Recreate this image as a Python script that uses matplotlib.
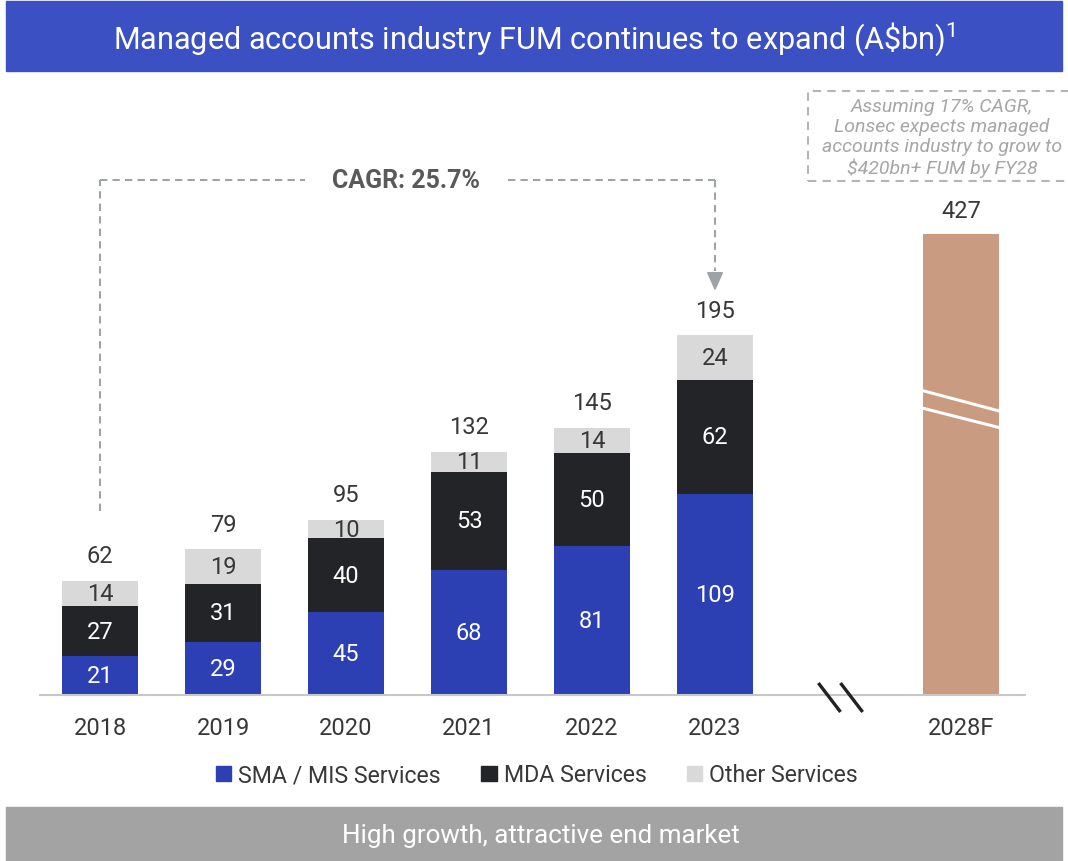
import matplotlib
matplotlib.use("Agg")
import matplotlib.pyplot as plt
from matplotlib.patches import Rectangle, Polygon

plt.rcParams['font.family'] = ['Roboto', 'DejaVu Sans']
plt.rcParams['mathtext.fontset'] = 'custom'
plt.rcParams['mathtext.rm'] = 'Roboto'

# data (A$bn)
years = ["2018", "2019", "2020", "2021", "2022", "2023"]
sma = [21, 29, 45, 68, 81, 109]
mda = [27, 31, 40, 53, 50, 62]
other = [14, 19, 10, 11, 14, 24]
totals = [62, 79, 95, 132, 145, 195]
fc_label = "2028F"
fc_value = 427
fc_shown = 250   # bar is cut by an axis break, so it is drawn shorter

c_sma = "#2c40b4"
c_mda = "#232427"
c_oth = "#d9d9d9"
c_fc = "#c99b80"
c_dash = "#9ea3a8"
c_txt = "#383838"

W, H = 1068, 862
fig = plt.figure(figsize=(W / 100, H / 100), dpi=100)

# banners
fig.patches.append(Rectangle((6 / W, (H - 72) / H), 1056 / W, 70 / H,
                             transform=fig.transFigure, color="#3b50c3", zorder=0))
fig.text(0.5, (H - 39) / H, r"Managed accounts industry FUM continues to expand (A\$bn)$^{1}$",
         color="white", fontsize=22.1, ha="center", va="center")
fig.patches.append(Rectangle((6 / W, 0), 1056 / W, 54 / H,
                             transform=fig.transFigure, color="#a3a3a3", zorder=0))
fig.text(541 / W, (H - 836) / H, "High growth, attractive end market",
         color="white", fontsize=18.7, ha="center", va="center")

ax = fig.add_axes([40 / W, (H - 696) / H, 985 / W, 616 / H])
x = list(range(len(years)))
bw = 0.62
bot2 = [a + b for a, b in zip(sma, mda)]
ax.bar(x, sma, bw, color=c_sma, zorder=2)
ax.bar(x, mda, bw, bottom=sma, color=c_mda, zorder=2)
ax.bar(x, other, bw, bottom=bot2, color=c_oth, zorder=2)
fc_x = 7
ax.bar([fc_x], [fc_shown], bw, color=c_fc, zorder=2)

lbl = dict(fontsize=17, ha="center", va="center")
for i in x:
    ax.text(i, sma[i] / 2, str(sma[i]), color="white", **lbl)
    ax.text(i, sma[i] + mda[i] / 2, str(mda[i]), color="white", **lbl)
    ax.text(i, bot2[i] + other[i] / 2, str(other[i]), color=c_txt, **lbl)
    ax.annotate(str(totals[i]), (i, totals[i]), xytext=(0, 18), textcoords="offset points",
                color=c_txt, **lbl)
ax.annotate(str(fc_value), (fc_x, fc_shown), xytext=(0, 17), textcoords="offset points",
            color=c_txt, **lbl)

# break marks on the forecast bar
for y0, y1 in [(165, 154), (155.5, 145)]:
    ax.plot([fc_x - bw / 2, fc_x + bw / 2], [y0, y1], color="white", lw=2.2, zorder=3)
# break marks on the axis
for dx in [0, 0.18]:
    ax.plot([5.84 + dx, 6.02 + dx], [6.5, -9.2], color="#222222", lw=2.4,
            clip_on=False, zorder=4, solid_capstyle="butt")

# CAGR bracket
ls = (0, (3.5, 2.5))
ax.plot([0, 0], [100, 279], color=c_dash, lw=1.5, ls=ls, zorder=1)
ax.plot([0, 1.67], [279, 279], color=c_dash, lw=1.5, ls=ls, zorder=1)
ax.plot([3.32, 5], [279, 279], color=c_dash, lw=1.5, ls=ls, zorder=1)
ax.plot([5, 5], [279, 230], color=c_dash, lw=1.5, ls=ls, zorder=1)
ax.add_patch(Polygon([[5 - 0.06, 229], [5 + 0.06, 229], [5, 220]], closed=True,
                     color=c_dash, zorder=1))
ax.text(2.49, 279, "CAGR: 25.7%", color="#595959", fontsize=18, fontweight="bold",
        ha="center", va="center")

ax.set_xlim(-0.488, 7.52)
ax.set_ylim(0, 334)
for s in ["top", "right", "left"]:
    ax.spines[s].set_visible(False)
ax.spines["bottom"].set_color("#c8c8c8")
ax.spines["bottom"].set_linewidth(1.5)
ax.set_yticks([])
ax.set_xticks(x + [fc_x])
ax.set_xticklabels(years + [fc_label], fontsize=17, color=c_txt)
ax.tick_params(axis="x", length=0, pad=15)

# note box (top right)
fig.patches.append(Rectangle((808 / W, (H - 182) / H), 275 / W, 90 / H,
                             transform=fig.transFigure, fill=False, ec="#b5b5b5",
                             lw=1.5, ls=(0, (4, 3)), zorder=1))
fig.text(942 / W, (H - 138) / H,
         "Assuming 17% CAGR,\nLonsec expects managed\naccounts industry to grow to\n$420bn+ FUM by FY28",
         color="#a6a6a6", fontsize=14, style="italic", ha="center", va="center",
         linespacing=1.13)

# legend
handles = [Rectangle((0, 0), 1, 1, color=c) for c in [c_sma, c_mda, c_oth]]
fig.legend(handles, ["SMA / MIS Services", "MDA Services", "Other Services"],
           loc="center", bbox_to_anchor=(537 / W, (H - 776) / H), ncol=3, frameon=False,
           fontsize=16.7, handlelength=0.65, handleheight=0.65, handletextpad=0.3,
           columnspacing=1.75, labelcolor=c_txt)

fig.savefig("out.png", dpi=100)
